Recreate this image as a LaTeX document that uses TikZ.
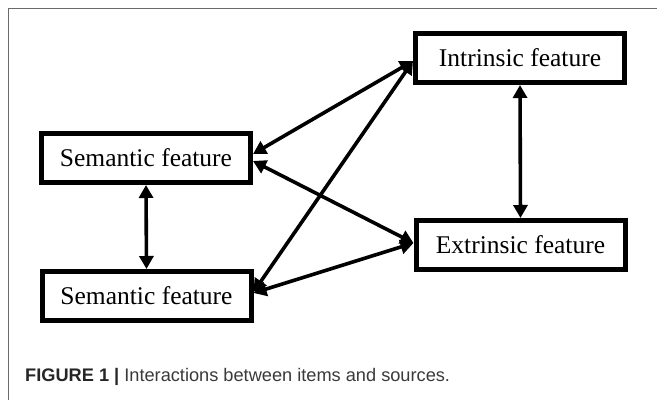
\documentclass[tikz,border=0pt]{standalone}
\usepackage{fontspec}
\setmainfont{Liberation Serif}
\newfontfamily\capfont{Liberation Sans}
\usetikzlibrary{arrows.meta}
\definecolor{framegray}{HTML}{6A6A6A}
\definecolor{captext}{HTML}{3A3A3A}
\definecolor{capbold}{HTML}{262626}
\tikzset{
  featbox/.style={draw=black, line width=5pt, fill=white, minimum width=209pt, minimum height=49pt, inner sep=0pt, font=\fontsize{25.5}{27}\selectfont},
  link/.style={line width=3.6pt, {Triangle[length=13pt,width=14pt]}-{Triangle[length=13pt,width=14pt]}}
}
\begin{document}
\begin{tikzpicture}[x=1pt,y=-1pt]
\useasboundingbox (0,0) rectangle (657,400);
\fill[white] (0,0) rectangle (657,400);
\coordinate (fbl) at (8,400);
\coordinate (ftl) at (8,8);
\coordinate (ftr) at (657,8);
\draw[framegray, line width=1pt] (fbl) -- (ftl) -- (ftr);

\node[featbox] (semtop) at (146,158) {Semantic feature};
\node[featbox] (sembot) at (146.5,296) {Semantic feature};
\node[featbox] (intr) at (520,58) {Intrinsic feature};
\node[featbox] (extr) at (520.5,245) {Extrinsic feature};

\draw[link] (semtop.south) -- (sembot.north);
\draw[link] (intr.south) -- (extr.north);
\draw[link] ([yshift=4pt]semtop.east) -- ([yshift=-3pt]intr.west);
\draw[link] ([yshift=4pt]sembot.east) -- ([yshift=-3pt]intr.west);
\draw[link] ([yshift=-3pt]semtop.east) -- ([yshift=2pt]extr.west);
\draw[link] ([yshift=3pt]sembot.east) -- ([yshift=2pt]extr.west);

\node[anchor=west, inner sep=0pt, font=\capfont\fontsize{18.2}{20}\selectfont, text=captext] (cap) at (25,377)
  {\textcolor{capbold}{\textbf{FIGURE 1 |}} Interactions between items and sources.};
\end{tikzpicture}
\end{document}
